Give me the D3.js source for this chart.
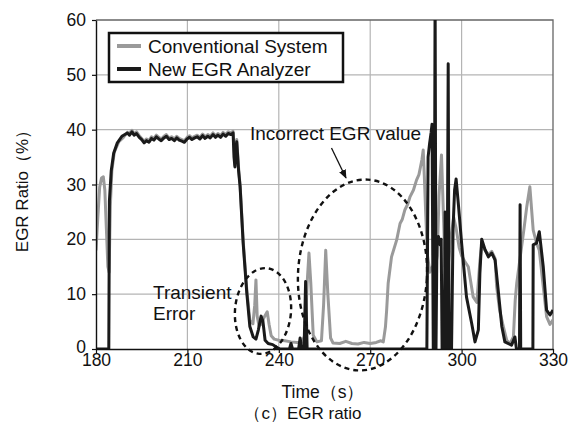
<!DOCTYPE html>
<html>
<head>
<meta charset="utf-8">
<script src="https://cdn.jsdelivr.net/npm/d3@7"></script>
<style>
  html, body { margin: 0; padding: 0; background: #fff; }
  svg text { font-family: "Liberation Sans", Arial, sans-serif; fill: #111; }
</style>
</head>
<body>
<svg id="chart" width="575" height="425"></svg>
<script>
// Conventional System (grey trace)
const convTime = [
  180.0,180.6,181.2,181.8,182.4,182.9,183.4,183.9,184.3,184.7,185.2,186.0,187.5,189.0,
  190.3,191.0,191.8,192.5,193.3,194.2,195.0,195.8,196.6,197.4,198.2,199.0,199.8,200.6,
  201.4,202.3,203.1,204.0,204.8,205.7,206.5,207.3,208.2,209.0,209.9,210.7,211.5,212.4,
  213.2,214.1,215.0,215.8,216.7,217.5,218.4,219.2,220.0,220.9,221.7,222.6,223.4,224.3,
  225.0,225.4,225.6,225.9,226.2,226.8,227.3,228.3,229.5,230.5,231.5,232.1,232.5,232.9,
  233.5,234.3,235.2,236.2,236.8,237.5,238.5,240.0,242.0,244.0,246.0,247.5,248.6,249.3,
  249.9,250.5,251.3,252.5,254.0,254.7,255.4,256.1,257.0,257.8,260.0,262.0,264.0,266.0,
  268.0,270.0,272.0,273.5,274.3,275.0,275.4,275.9,277.0,278.7,279.8,280.5,281.4,282.3,
  283.1,284.2,285.2,286.0,286.5,287.0,287.4,287.8,288.2,288.8,289.6,290.4,291.2,292.0,
  292.6,293.4,294.0,294.6,295.4,296.4,297.4,298.2,299.2,300.0,301.0,302.2,303.8,305.0,
  306.0,306.6,307.7,308.8,309.9,311.0,311.5,312.5,313.7,314.8,315.9,317.0,317.6,318.1,
  319.7,320.5,321.4,322.4,323.5,324.6,325.5,326.8,327.9,329.0,330.0
];
const convValue = [
  18,24,29.5,31.2,31.4,29,22,15,14,26,32.5,35.9,37.8,38.6,
  39.5,39.3,39.9,39.2,39.6,38.9,38.4,37.9,38.3,38.0,38.7,38.4,39.0,38.6,
  38.3,38.8,39.1,38.5,38.7,38.3,38.8,38.4,38.2,38.0,38.6,38.9,38.5,38.8,
  39.0,38.6,39.2,38.7,39.1,38.8,39.4,38.9,39.3,38.9,39.5,39.1,39.6,39.4,
  39.7,36,33.5,37,38.2,33,29.8,19.8,10.8,5.2,4.6,8,12.6,6,
  4.2,4.6,5.8,6.8,4.5,2.4,1.8,1.6,1.5,1.3,1.2,1.2,2.5,12,
  17.5,12,2.5,1.3,1.5,8,18,10,2,1.1,1.0,1.4,1.0,0.9,
  1.2,1.0,1.2,1.5,1.3,4,7.1,12,16.8,19.9,22.9,23.6,25.4,26.4,
  27.8,29.0,30.8,31.8,33.2,34.6,36.3,31,25,17,14,15,14,17,
  28,35.4,25,15,14,20,24,22,18.5,17,16,15,9.5,8.5,
  16,19,18,17.2,17.8,16.5,11.4,7,4.1,1.6,1.0,2.2,8.9,12,
  18.7,22,26,29.6,21.7,19.3,18,11.4,5.9,4.5,5.3
];

// New EGR Analyzer (black trace)
const newTime = [
  180.0,184.2,184.4,185.0,185.8,187.0,188.5,190.3,191.0,191.8,192.5,193.3,194.2,195.0,
  195.8,196.6,197.4,198.2,199.0,199.8,200.6,201.4,202.3,203.1,204.0,204.8,205.7,206.5,
  207.3,208.2,209.0,209.9,210.7,211.5,212.4,213.2,214.1,215.0,215.8,216.7,217.5,218.4,
  219.2,220.0,220.9,221.7,222.6,223.4,224.3,225.0,225.3,225.6,225.9,226.2,226.8,227.3,
  228.3,229.5,230.5,231.6,232.5,233.3,234.2,234.8,235.5,236.5,238.0,239.3,240.5,243.5,
  244.0,244.5,246.5,247.0,247.5,248.3,248.8,249.3,288.6,289.0,289.5,290.0,290.3,290.7,
  291.0,291.3,291.6,291.9,292.4,292.9,293.3,293.6,294.3,294.6,294.9,295.2,295.6,295.9,
  296.7,297.2,297.7,298.2,299.0,300.0,301.6,303.3,304.4,305.5,306.0,306.6,307.7,308.8,
  309.9,311.0,312.0,313.2,314.2,316.4,317.5,318.0,319.0,319.2,319.4,323.4,323.5,324.6,
  325.5,326.8,327.9,329.0,330.0
];
const newValue = [
  0,0,27,32.5,35.7,37.6,38.8,39.4,39.0,39.6,39.0,39.3,38.6,38.2,
  37.6,38.0,37.7,38.4,38.1,38.7,38.3,38.0,38.5,38.8,38.2,38.4,38.0,38.5,
  38.1,37.9,37.7,38.3,38.6,38.2,38.5,38.7,38.3,38.9,38.4,38.8,38.5,39.1,
  38.6,39.0,38.6,39.2,38.8,39.3,39.1,39.4,35,33.2,36.5,37.8,32.5,29.6,
  19.3,10.2,4.1,2.2,1.8,3.5,6.0,5.0,1.6,1.0,0.8,0.3,0,0,
  1.0,0,0,2.0,0,0,12.3,0,0,35,37.5,39.5,41,0,
  0,65,0,19,20.5,19,20,0,0,25,0,0,52,0,
  0,22,29,31,26,19.3,9.5,4.7,1.3,3.5,13.8,20,18.1,16.8,
  17.5,16.2,10.8,4.1,1.3,0.7,2.2,0,0,26.3,0,0,19,19.3,
  21.4,15,7.1,6.2,7.1
];

const xTicks = [180, 210, 240, 270, 300, 330];
const yTicks = [0, 10, 20, 30, 40, 50, 60];
const seriesNames = ["Conventional System", "New EGR Analyzer"];
const seriesColors = ["#9a9a9a", "#1a1a1a"];

const svg = d3.select("#chart");
const plotL = 96, plotR = 553, plotT = 20, plotB = 349;

const x = d3.scaleLinear().domain([180, 330]).range([plotL, plotR]);
const y = d3.scaleLinear().domain([0, 60]).range([plotB, plotT]);

// grid
svg.append("g")
  .selectAll("line")
  .data(xTicks.slice(1, -1))
  .join("line")
  .attr("x1", d => x(d)).attr("x2", d => x(d))
  .attr("y1", plotT).attr("y2", plotB)
  .attr("stroke", "#b4b4b4").attr("stroke-width", 1.2);

svg.append("g")
  .selectAll("line")
  .data(yTicks.slice(1, -1))
  .join("line")
  .attr("x1", plotL).attr("x2", plotR)
  .attr("y1", d => y(d)).attr("y2", d => y(d))
  .attr("stroke", "#b4b4b4").attr("stroke-width", 1.2);

// frame top / right
svg.append("path")
  .attr("d", `M${plotL},${plotT}H${plotR}V${plotB}`)
  .attr("fill", "none").attr("stroke", "#666").attr("stroke-width", 1.3);

// traces
svg.append("clipPath").attr("id", "plot")
  .append("rect").attr("x", plotL).attr("y", plotT)
  .attr("width", plotR - plotL).attr("height", plotB - plotT);

const line = d3.line().x(d => x(d[0])).y(d => y(d[1]));
const traces = [d3.zip(convTime, convValue), d3.zip(newTime, newValue)];

svg.append("g").attr("clip-path", "url(#plot)")
  .selectAll("path")
  .data(traces)
  .join("path")
  .attr("d", line)
  .attr("fill", "none")
  .attr("stroke", (d, i) => seriesColors[i])
  .attr("stroke-width", 3)
  .attr("stroke-linejoin", "round");

// axes
const xAxis = svg.append("g")
  .attr("transform", `translate(0,${plotB})`)
  .call(d3.axisBottom(x).tickValues(xTicks).tickSize(4).tickPadding(1).tickSizeOuter(0));
const yAxis = svg.append("g")
  .attr("transform", `translate(${plotL},0)`)
  .call(d3.axisLeft(y).tickValues(yTicks).tickSize(4).tickPadding(6).tickSizeOuter(0));

[xAxis, yAxis].forEach(a => {
  a.select(".domain").attr("stroke", "#111").attr("stroke-width", 1.4);
  a.selectAll(".tick line").attr("stroke", "#111").attr("stroke-width", 1.2);
  a.selectAll(".tick text")
    .attr("font-family", "Liberation Sans, Arial, sans-serif")
    .attr("font-size", 17.5).attr("fill", "#111");
});
// keep the "0" label clear of the "180" label below it
yAxis.selectAll(".tick text").filter(d => d === 0).attr("dy", "0.2em");

// axis titles
svg.append("text")
  .attr("x", 323).attr("y", 398)
  .attr("text-anchor", "middle").attr("font-size", 17.5)
  .text("Time（s）");

svg.append("text")
  .attr("x", 303).attr("y", 419)
  .attr("text-anchor", "middle").attr("font-size", 17)
  .text("（c）EGR ratio");

svg.append("text")
  .attr("transform", "translate(28,187) rotate(-90)")
  .attr("text-anchor", "middle").attr("font-size", 17)
  .text("EGR Ratio（%）");

// legend
const legend = svg.append("g");
legend.append("rect")
  .attr("x", 109).attr("y", 33).attr("width", 234).attr("height", 49)
  .attr("fill", "#fff").attr("stroke", "#111").attr("stroke-width", 2.5);
seriesNames.forEach((name, i) => {
  legend.append("line")
    .attr("x1", 117).attr("x2", 141)
    .attr("y1", 46 + i * 23).attr("y2", 46 + i * 23)
    .attr("stroke", seriesColors[i]).attr("stroke-width", 4);
  legend.append("text")
    .attr("x", 148).attr("y", 53 + i * 23)
    .attr("font-size", 19)
    .text(name);
});

// annotations
svg.append("defs").append("marker")
  .attr("id", "arrow").attr("viewBox", "0 0 10 10")
  .attr("refX", 9).attr("refY", 5)
  .attr("markerWidth", 7).attr("markerHeight", 7)
  .attr("orient", "auto")
  .append("path").attr("d", "M0,1L10,5L0,9z").attr("fill", "#111");

svg.append("ellipse")
  .attr("cx", 362.5).attr("cy", 275).attr("rx", 64.5).attr("ry", 95.5)
  .attr("transform", "rotate(3,362.5,275)")
  .attr("fill", "none").attr("stroke", "#111").attr("stroke-width", 2.4)
  .attr("stroke-dasharray", "5,4");

svg.append("ellipse")
  .attr("cx", 263).attr("cy", 311).attr("rx", 28).attr("ry", 43)
  .attr("transform", "rotate(5,263,311)")
  .attr("fill", "none").attr("stroke", "#111").attr("stroke-width", 2.4)
  .attr("stroke-dasharray", "5,4");

svg.append("line")
  .attr("x1", 331.5).attr("y1", 148).attr("x2", 346).attr("y2", 178)
  .attr("stroke", "#111").attr("stroke-width", 1.3)
  .attr("marker-end", "url(#arrow)");

svg.append("text")
  .attr("x", 250).attr("y", 140).attr("font-size", 19)
  .text("Incorrect EGR value");

svg.append("text")
  .attr("x", 153).attr("y", 299).attr("font-size", 19)
  .text("Transient");
svg.append("text")
  .attr("x", 153).attr("y", 320).attr("font-size", 19)
  .text("Error");
</script>
</body>
</html>
